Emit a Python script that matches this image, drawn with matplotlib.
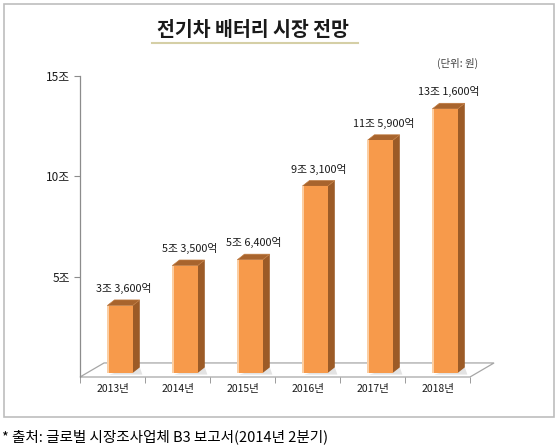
import matplotlib
matplotlib.use("Agg")
import matplotlib.pyplot as plt
from matplotlib.patches import Polygon, Rectangle
from matplotlib.lines import Line2D

plt.rcParams['font.family'] = ['Noto Sans CJK KR', 'DejaVu Sans']

# ---- data ----
years = ['2013년', '2014년', '2015년', '2016년', '2017년', '2018년']
values = [3.36, 5.35, 5.64, 9.31, 11.59, 13.16]   # 조 원
value_labels = ['3조 3,600억', '5조 3,500억', '5조 6,400억',
                '9조 3,100억', '11조 5,900억', '13조 1,600억']
ytick_vals = [5, 10, 15]
ytick_labels = ['5조', '10조', '15조']
title = '전기차 배터리 시장 전망'
unit = '(단위: 원)'
source = '* 출처: 글로벌 시장조사업체 B3 보고서(2014년 2분기)'

W, H = 560, 448
fig = plt.figure(figsize=(W / 100, H / 100), dpi=100)
fig.patch.set_facecolor('white')

# outer frame
fig.patches.append(Rectangle((4 / W, 1 - 417 / H), 550 / W, 413 / H,
                             transform=fig.transFigure, fill=False,
                             edgecolor='#BDBDBD', linewidth=1.2))

# axes: left 80px, right 470px, y=0 at 377px, y=15 at 76px
ax = fig.add_axes([80 / W, 1 - 377 / H, 390 / W, 301 / H])
ax.set_xlim(-0.5, len(years) - 0.5)
ax.set_ylim(0, 15)
ax.patch.set_alpha(0)
for s in ['top', 'right', 'bottom']:
    ax.spines[s].set_visible(False)
ax.spines['left'].set_color('#8C8C8C')
ax.spines['left'].set_linewidth(0.9)

# floor (depth offsets in data units)
fdx, fdy = 0.37, 0.70
n = len(years)
floor = Polygon([(-0.5, 0), (n - 0.5, 0), (n - 0.5 + fdx, fdy), (-0.5 + fdx, fdy)],
                closed=True, facecolor='white', edgecolor='#A6A6A6',
                linewidth=0.9, clip_on=False, zorder=1)
ax.add_patch(floor)

# bars
bw = 0.39
base = 0.2
ddx, ddy = 0.11, 0.28
front_c = '#F79A4B'
side_c = '#9C5B27'
top_c = '#A8642D'
for i, v in enumerate(values):
    x0 = i - 0.08
    x1 = x0 + bw
    top = base + v
    # soft base shadow
    ax.add_patch(Polygon([(x0 + 0.03, base - 0.08), (x1 + ddx + 0.04, base - 0.08),
                          (x1 + ddx, base + ddy), (x1, base + ddy)],
                         closed=True, facecolor='#E3E3E3', edgecolor='none',
                         zorder=2, clip_on=False))
    ax.bar(x0, v, width=bw, bottom=base, align='edge', color=front_c,
           edgecolor='none', zorder=4)
    ax.plot([x0 + 0.012, x0 + 0.012], [base, top], color='#FDD9B5',
            linewidth=1.2, zorder=5, solid_capstyle='butt')
    ax.add_patch(Polygon([(x1, base), (x1 + ddx, base + ddy),
                          (x1 + ddx, top + ddy), (x1, top)],
                         closed=True, facecolor=side_c, edgecolor='none',
                         zorder=3, clip_on=False))
    ax.add_patch(Polygon([(x0, top), (x0 + ddx, top + ddy),
                          (x1 + ddx, top + ddy), (x1, top)],
                         closed=True, facecolor=top_c, edgecolor='#C07A3E',
                         linewidth=0.5, zorder=3, clip_on=False))
    ax.text(i + 0.18, top + 0.85, value_labels[i], ha='center', va='center',
            fontsize=7.8, color='#1A1A1A', zorder=6)

# ticks
ax.set_yticks(ytick_vals)
ax.set_yticklabels(ytick_labels, fontsize=8.5, color='#1A1A1A')
ax.tick_params(axis='y', direction='out', length=4, color='#8C8C8C', pad=3)
ax.set_xticks(range(n))
ax.set_xticklabels(years, fontsize=7.5, color='#1A1A1A')
ax.set_xticks([i + 0.5 for i in range(-1, n)], minor=True)
ax.tick_params(axis='x', which='major', length=0, pad=5)
ax.tick_params(axis='x', which='minor', length=4, color='#8C8C8C', direction='out')

# title & underline
fig.text(253 / W, 1 - 31 / H, title, ha='center', va='center',
         fontsize=14, fontweight='bold', color='#1A1A1A')
fig.lines.append(Line2D([152 / W, 358 / W], [1 - 43 / H, 1 - 43 / H],
                        transform=fig.transFigure, color='#D5CFA6', linewidth=1.5))
fig.text(458 / W, 1 - 63 / H, unit, ha='center', va='center',
         fontsize=7.5, color='#404040')

# source
fig.text(2 / W, 1 - 437 / H, source, ha='left', va='center',
         fontsize=10.5, color='#000000')

fig.savefig('out.png', dpi=100, facecolor='white')
